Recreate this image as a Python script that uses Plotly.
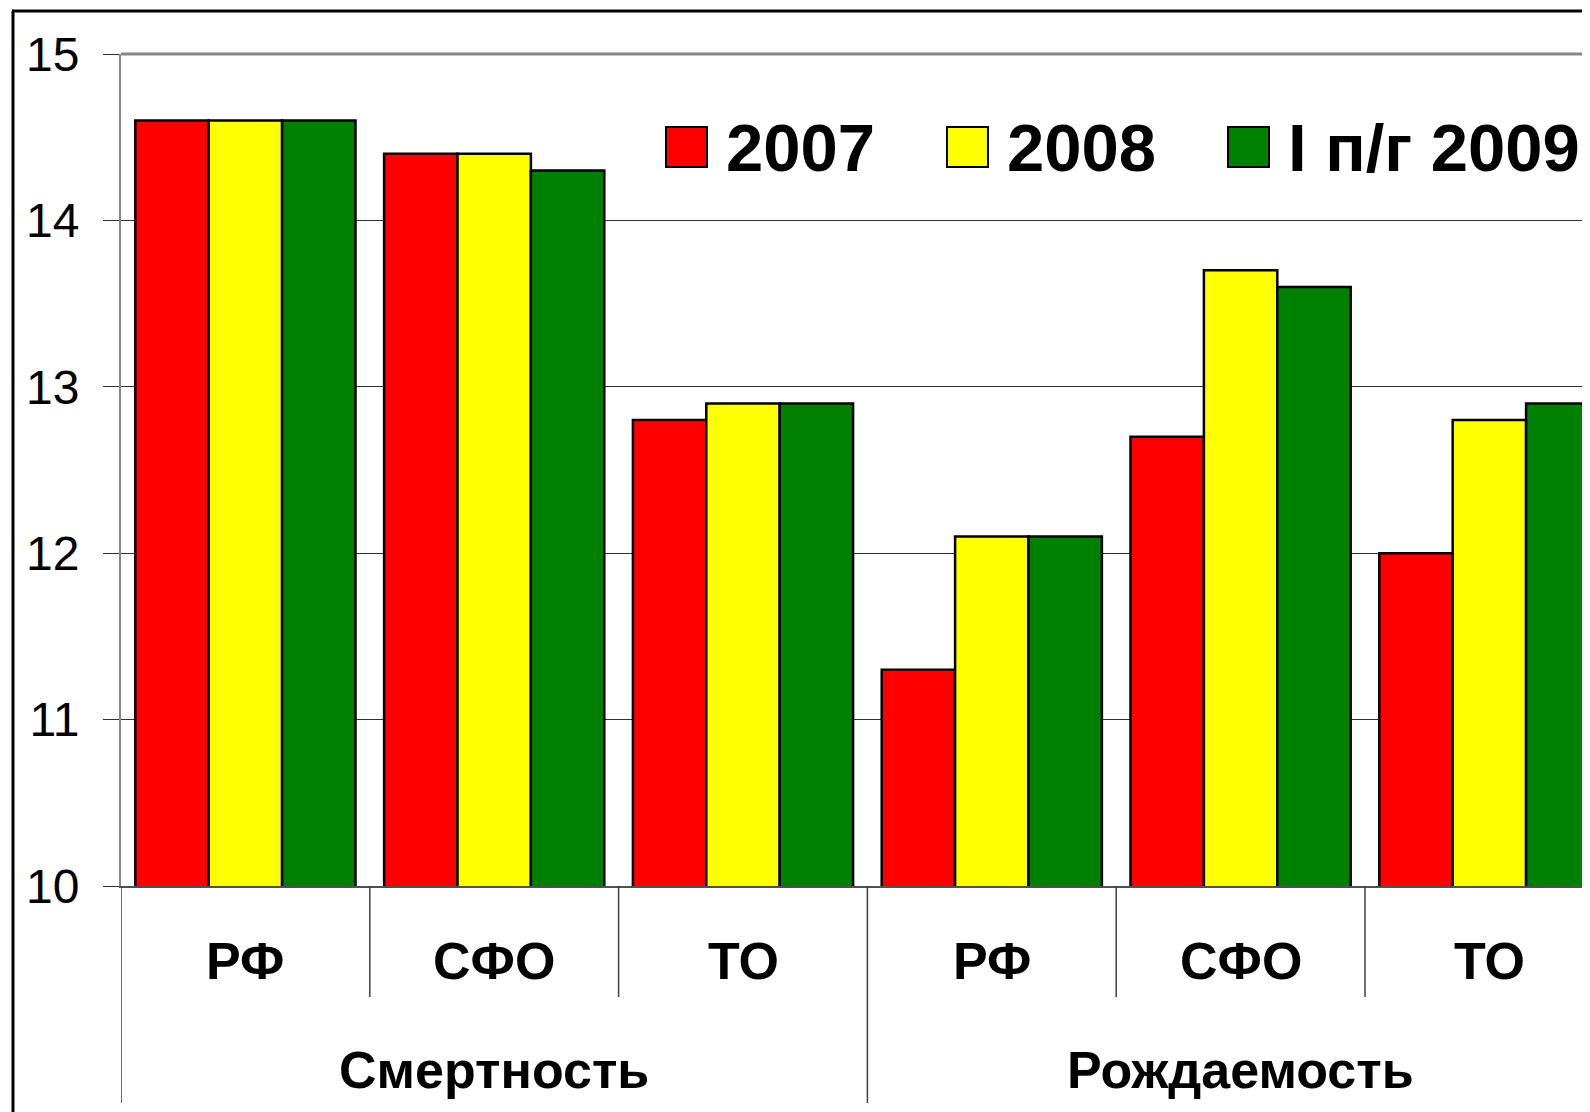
import plotly.graph_objects as go

categories = ["РФ", "СФО", "ТО", "РФ", "СФО", "ТО"]
groups = ["Смертность", "Рождаемость"]
series_names = ["2007", "2008", "I п/г 2009"]
values_2007 = [14.6, 14.4, 12.8, 11.3, 12.7, 12.0]
values_2008 = [14.6, 14.4, 12.9, 12.1, 13.7, 12.8]
values_2009 = [14.6, 14.3, 12.9, 12.1, 13.6, 12.9]
colors = ["#FF0000", "#FFFF00", "#008000"]
y_ticks = [10, 11, 12, 13, 14, 15]

OFF = 8  # page body margin
W, H = 1590 - OFF, 1112 - OFF
L = 121 - OFF
T = 54 - OFF
PB = 886 - OFF          # plot bottom in figure px
B = H - PB
plot_w = W - L
plot_h = PB - T
CAT_W = 248.8

def px_x(X):
    return ((X - OFF) - L) / plot_w

def px_y(Y):
    return (PB - (Y - OFF)) / plot_h

FONT = "Liberation Sans, Arial, sans-serif"
xs = list(range(len(categories)))

fig = go.Figure()
for name, vals, col in zip(series_names, [values_2007, values_2008, values_2009], colors):
    fig.add_trace(go.Bar(x=xs, y=vals, name=name, base=0,
                         marker=dict(color=col, line=dict(color="black", width=2.5)),
                         showlegend=False))

shapes = []
annotations = []

n = len(categories)
for i in range(n + 1):
    xb = i - 0.5
    y_end = px_y(1103) if i % 3 == 0 else px_y(997)
    shapes.append(dict(type="line", xref="x", yref="paper", x0=xb, x1=xb, y0=0, y1=y_end,
                       line=dict(color="#404040", width=1.5)))

for i, c in enumerate(categories):
    annotations.append(dict(xref="x", yref="paper", x=i, y=px_y(961), text=c, showarrow=False,
                            xanchor="center", yanchor="middle",
                            font=dict(family=FONT, size=52, color="black", weight="bold")))
for g, gname in enumerate(groups):
    annotations.append(dict(xref="x", yref="paper", x=g * 3 + 1, y=px_y(1070), text=gname, showarrow=False,
                            xanchor="center", yanchor="middle",
                            font=dict(family=FONT, size=52, color="black", weight="bold")))

# top plot border (gray)
shapes.append(dict(type="line", xref="paper", yref="paper", x0=0, x1=1.05, y0=1, y1=1,
                   line=dict(color="#888888", width=3)))

# outer frame
shapes.append(dict(type="line", xref="paper", yref="paper", x0=px_x(13), x1=px_x(13),
                   y0=px_y(11), y1=px_y(1130), line=dict(color="black", width=3)))
shapes.append(dict(type="line", xref="paper", yref="paper", x0=px_x(12), x1=px_x(1620),
                   y0=px_y(11), y1=px_y(11), line=dict(color="black", width=3)))

# manual legend
legend_boxes = [(666, 728), (947, 1009), (1228, 1290)]
for (bx, tx), name, col in zip(legend_boxes, series_names, colors):
    shapes.append(dict(type="rect", xref="paper", yref="paper",
                       x0=px_x(bx), x1=px_x(bx + 41), y0=px_y(167), y1=px_y(127),
                       fillcolor=col, line=dict(color="black", width=2)))
    annotations.append(dict(xref="paper", yref="paper", x=px_x(tx - 4), y=px_y(147), text=name,
                            showarrow=False, xanchor="left", yanchor="middle",
                            font=dict(family=FONT, size=67, color="black", weight="bold")))

fig.update_layout(
    width=W, height=H,
    margin=dict(l=L, r=0, t=T, b=B),
    paper_bgcolor="white", plot_bgcolor="white",
    barmode="group", bargap=0.115, bargroupgap=0,
    shapes=shapes, annotations=annotations,
    showlegend=False,
    xaxis=dict(range=[-0.5, -0.5 + plot_w / CAT_W], showticklabels=False, showgrid=False,
               zeroline=False, showline=True, linecolor="#505050", linewidth=2, ticks=""),
    yaxis=dict(range=[10, 15], tickvals=y_ticks, ticktext=[str(v) for v in y_ticks],
               showgrid=True, gridcolor="#303030", gridwidth=1, zeroline=False,
               showline=True, linecolor="#888888", linewidth=2,
               ticks="outside", ticklen=16, tickcolor="#303030", tickwidth=1,
               ticklabelstandoff=14,
               tickfont=dict(family=FONT, size=48, color="black")),
)

fig.write_html("out.html")
